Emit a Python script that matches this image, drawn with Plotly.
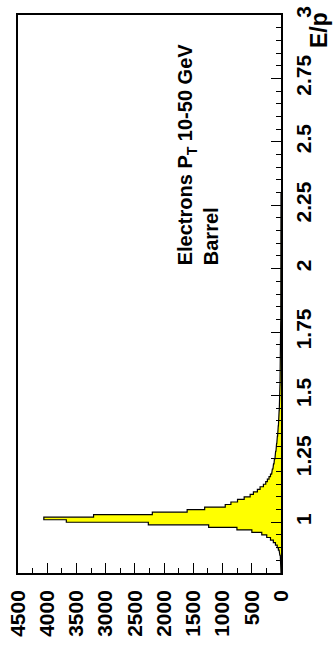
import numpy as np
import plotly.graph_objects as go

# E/p histogram, 0.01-wide bins starting at 0.80
bin_start = 0.80
bin_width = 0.01
counts = [
    0, 0, 1, 1, 3, 6, 12, 20, 32, 45,                          # 0.80 - 0.89
    65, 95, 131, 180, 244, 329, 499, 754, 1238, 2270,          # 0.90 - 0.99
    3673, 4058, 3207, 2202, 1606, 1306, 954, 857, 744, 630,    # 1.00 - 1.09
    528, 472, 404, 358, 301, 261, 233, 205, 180, 160,          # 1.10 - 1.19
    148, 138, 128, 120, 112, 104, 98, 92, 86, 80,              # 1.20 - 1.29
    76, 72, 68, 62, 58, 54, 50, 47, 44, 41,                    # 1.30 - 1.39
    38, 36, 34, 32, 30, 28, 26, 25, 23, 22,                    # 1.40 - 1.49
    21, 20, 19, 18, 17, 16, 15, 14, 13, 12,                    # 1.50 - 1.59
    11, 11, 10, 10, 9, 9, 8, 8, 8, 7,                          # 1.60 - 1.69
    7, 7, 6, 6, 6, 5, 5, 5, 5, 4,                              # 1.70 - 1.79
    4, 4, 4, 4, 3, 3, 3, 3, 3, 3,                              # 1.80 - 1.89
    3, 2, 2, 2, 2, 2, 2, 2, 2, 2,                              # 1.90 - 1.99
    2, 2, 1, 2, 1, 1, 2, 1, 1, 1,                              # 2.00 - 2.09
    1, 1, 0, 1, 1, 0, 1, 0, 0, 1,                              # 2.10 - 2.19
    0, 1, 0, 0, 1, 0, 0, 0, 0, 0,                              # 2.20 - 2.29
]

count_ticks = [0, 500, 1000, 1500, 2000, 2500, 3000, 3500, 4000, 4500]
ep_ticks = [1, 1.25, 1.5, 1.75, 2, 2.25, 2.5, 2.75, 3]
ep_tick_text = ["1", "1.25", "1.5", "1.75", "2", "2.25", "2.5", "2.75", "3"]

# step outline of the histogram (bars run horizontally)
edges = bin_start + bin_width * np.arange(len(counts) + 1)
xs, ys = [0], [edges[0]]
for i, c in enumerate(counts):
    xs += [c, c]
    ys += [edges[i], edges[i + 1]]
xs.append(0)
ys.append(edges[-1])

FONT = "Liberation Sans, Arial, Helvetica, sans-serif"

fig = go.Figure()
fig.add_trace(go.Scatter(
    x=xs, y=ys, mode="lines", fill="tozerox",
    fillcolor="#ffff00", line=dict(color="black", width=1.2),
    hoverinfo="skip", showlegend=False,
))

fig.update_layout(
    width=336, height=650,
    margin=dict(l=17, r=55, t=6, b=77),
    paper_bgcolor="white", plot_bgcolor="white",
    font=dict(family=FONT, color="black"),
    xaxis=dict(
        range=[4500, 0], tickvals=count_ticks,
        ticktext=[str(v) for v in count_ticks],
        tickangle=-90, ticks="inside", ticklen=10, tickwidth=1, tickcolor="black",
        minor=dict(ticks="inside", dtick=250, ticklen=5, tickcolor="black"),
        showgrid=False, zeroline=False,
        showline=True, linecolor="black", linewidth=1.5, mirror=True,
        tickfont=dict(size=21, family=FONT, weight="bold"),
        ticklabelstandoff=7, ticklabeloverflow="allow",
    ),
    yaxis=dict(
        range=[0.8, 3.0], side="right", tickvals=ep_ticks, ticktext=ep_tick_text,
        tickangle=-90, ticks="inside", ticklen=10, tickwidth=1, tickcolor="black",
        minor=dict(ticks="inside", dtick=0.05, ticklen=5, tickcolor="black"),
        showgrid=False, zeroline=False,
        showline=True, linecolor="black", linewidth=1.5, mirror=True,
        tickfont=dict(size=21, family=FONT, weight="bold"),
        ticklabelstandoff=3, ticklabeloverflow="allow",
    ),
    annotations=[
        dict(text="E/p", xref="paper", yref="paper", x=1.0, y=1.0,
             xshift=53, yshift=5, xanchor="right", yanchor="top",
             textangle=-90, showarrow=False,
             font=dict(size=23, family=FONT, weight="bold")),
        dict(text="Electrons P<sub>T</sub> 10-50 GeV", xref="paper", yref="paper",
             x=(187 - 17) / 264, y=(650 - 77 - 262) / 567,
             xanchor="center", yanchor="bottom", textangle=-90, showarrow=False,
             font=dict(size=20, family=FONT, weight="bold")),
        dict(text="Barrel", xref="paper", yref="paper",
             x=(211 - 17) / 264, y=(650 - 77 - 262) / 567,
             xanchor="center", yanchor="bottom", textangle=-90, showarrow=False,
             font=dict(size=20, family=FONT, weight="bold")),
    ],
)

fig.write_html("out.html")
